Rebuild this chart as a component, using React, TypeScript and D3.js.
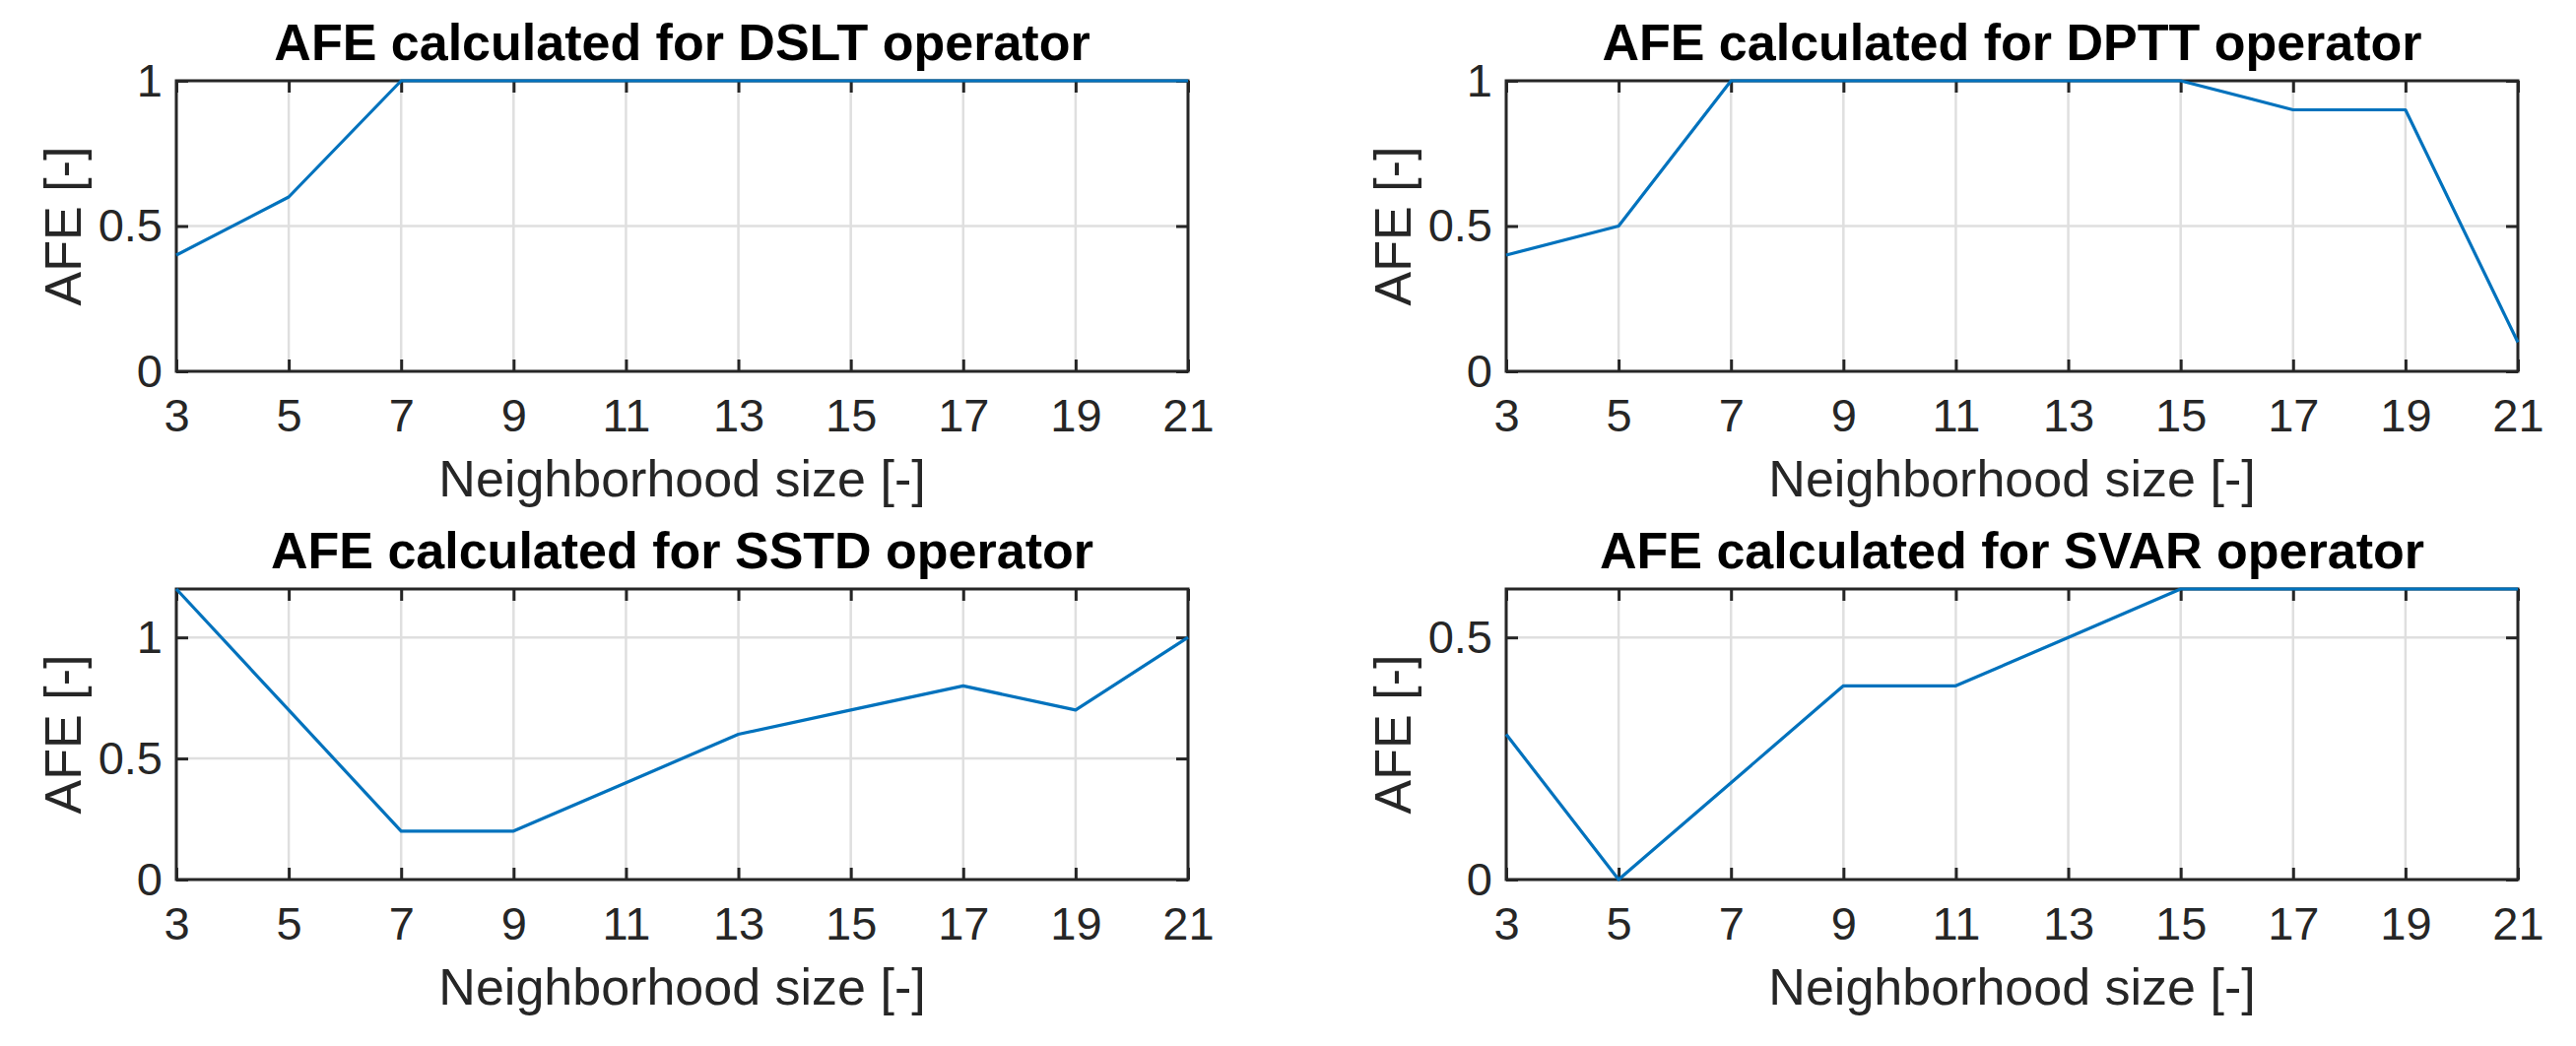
import React, { useEffect, useRef } from 'react';
import * as d3 from 'd3';

// Neighborhood sizes (x axis)
const sizes = [3, 5, 7, 9, 11, 13, 15, 17, 19, 21];

// AFE values
const dsltAfe = [0.4, 0.6, 1, 1, 1, 1, 1, 1, 1, 1];
const dpttAfe = [0.4, 0.5, 1, 1, 1, 1, 1, 0.9, 0.9, 0.1];
const sstdAfe = [1.2, 0.7, 0.2, 0.2, 0.4, 0.6, 0.7, 0.8, 0.7, 1.0];
const svarAfe = [0.3, 0, 0.2, 0.4, 0.4, 0.5, 0.6, 0.6, 0.6, 0.6];

const titles = [
  'AFE calculated for DSLT operator',
  'AFE calculated for DPTT operator',
  'AFE calculated for SSTD operator',
  'AFE calculated for SVAR operator',
];
const yMaxes = [1, 1, 1.2, 0.6];
const yTickSets = [[0, 0.5, 1], [0, 0.5, 1], [0, 0.5, 1], [0, 0.5]];
const seriesList = [dsltAfe, dpttAfe, sstdAfe, svarAfe];

const xLabel = 'Neighborhood size [-]';
const yLabel = 'AFE [-]';

const W = 2615;
const H = 1062;
const FONT = '"Liberation Sans", Arial, Helvetica, sans-serif';
const AXIS_COLOR = '#262626';
const GRID_COLOR = '#dfdfdf';
const LINE_COLOR = '#0072BD';

// panel layout (left, top) in pixels
const lefts = [179, 1529, 179, 1529];
const tops = [82, 82, 598, 598];
const plotW = 1027;
const plotH = 295;

const App: React.FC = () => {
  const svgRef = useRef<SVGSVGElement>(null);

  useEffect(() => {
    if (!svgRef.current) return;
    const svg = d3.select(svgRef.current);
    svg.selectAll('*').remove();

    svg.append('rect').attr('width', W).attr('height', H).attr('fill', '#fff');

    titles.forEach((title, i) => {
      const g = svg.append('g').attr('transform', `translate(${lefts[i]},${tops[i]})`);
      const values = seriesList[i];

      const x = d3.scaleLinear().domain([3, 21]).range([0, plotW]);
      const y = d3.scaleLinear().domain([0, yMaxes[i]]).range([plotH, 0]);

      // grid lines
      g.selectAll('line.gx')
        .data(sizes)
        .join('line')
        .attr('class', 'gx')
        .attr('x1', d => x(d))
        .attr('x2', d => x(d))
        .attr('y1', 0)
        .attr('y2', plotH)
        .attr('stroke', GRID_COLOR)
        .attr('stroke-width', 2.5);

      g.selectAll('line.gy')
        .data(yTickSets[i])
        .join('line')
        .attr('class', 'gy')
        .attr('x1', 0)
        .attr('x2', plotW)
        .attr('y1', d => y(d))
        .attr('y2', d => y(d))
        .attr('stroke', GRID_COLOR)
        .attr('stroke-width', 2.5);

      // axes with inward ticks
      const styleAxis = (ax: d3.Selection<SVGGElement, unknown, null, undefined>) => {
        ax.select('.domain').remove();
        ax.selectAll('line').attr('stroke', AXIS_COLOR).attr('stroke-width', 3);
        ax.selectAll('text')
          .attr('fill', AXIS_COLOR)
          .style('font-family', FONT)
          .style('font-size', '47px');
      };

      const bottom = g.append('g')
        .attr('transform', `translate(0,${plotH})`)
        .call(d3.axisBottom(x).tickValues(sizes).tickSize(-12).tickPadding(28).tickFormat(d3.format('d')));
      styleAxis(bottom);

      const top = g.append('g')
        .call(d3.axisTop(x).tickValues(sizes).tickSize(-12).tickFormat(() => ''));
      styleAxis(top);

      const left = g.append('g')
        .call(d3.axisLeft(y).tickValues(yTickSets[i]).tickSize(-12).tickPadding(14).tickFormat(d => String(d)));
      styleAxis(left);

      const right = g.append('g')
        .attr('transform', `translate(${plotW},0)`)
        .call(d3.axisRight(y).tickValues(yTickSets[i]).tickSize(-12).tickFormat(() => ''));
      styleAxis(right);

      // box
      g.append('rect')
        .attr('x', 0)
        .attr('y', 0)
        .attr('width', plotW)
        .attr('height', plotH)
        .attr('fill', 'none')
        .attr('stroke', AXIS_COLOR)
        .attr('stroke-width', 3);

      // data line
      const line = d3.line<number>()
        .x((_, j) => x(sizes[j]))
        .y(d => y(d));
      g.append('path')
        .datum(values)
        .attr('d', line)
        .attr('fill', 'none')
        .attr('stroke', LINE_COLOR)
        .attr('stroke-width', 3.2)
        .attr('stroke-linejoin', 'round');

      // title
      g.append('text')
        .attr('x', plotW / 2)
        .attr('y', -21)
        .attr('text-anchor', 'middle')
        .style('font-family', FONT)
        .style('font-size', '52px')
        .style('font-weight', 'bold')
        .attr('fill', '#000')
        .text(title);

      // x label
      g.append('text')
        .attr('x', plotW / 2)
        .attr('y', plotH + 127)
        .attr('text-anchor', 'middle')
        .style('font-family', FONT)
        .style('font-size', '52px')
        .attr('fill', AXIS_COLOR)
        .text(xLabel);

      // y label
      g.append('text')
        .attr('transform', `translate(-97,${plotH / 2}) rotate(-90)`)
        .attr('text-anchor', 'middle')
        .style('font-family', FONT)
        .style('font-size', '52px')
        .attr('fill', AXIS_COLOR)
        .text(yLabel);
    });
  }, []);

  return (
    <svg
      ref={svgRef}
      width={W}
      height={H}
      style={{ position: 'absolute', left: 0, top: 0, display: 'block' }}
    />
  );
};

export default App;
